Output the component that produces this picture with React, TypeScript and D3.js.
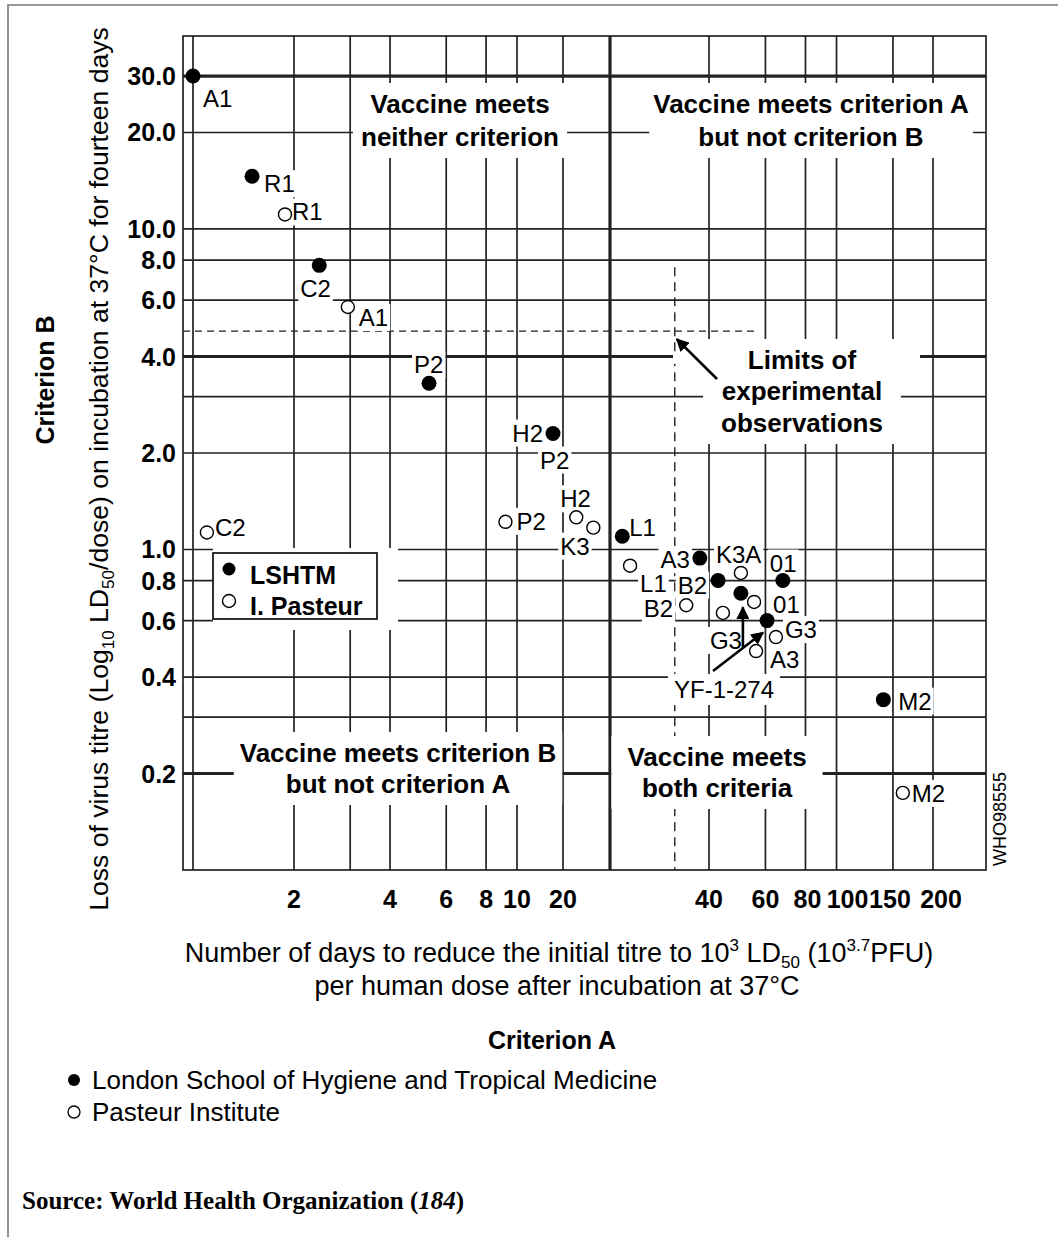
import React, { useEffect, useRef } from "react";
import * as d3 from "d3";

const W = 1058;
const H = 1237;

// x axis: number of days (the original figure uses a piecewise log axis)
const xBreaks = [1, 2, 10, 20, 40, 200];
const xGrid = [1, 2, 3, 4, 6, 8, 10, 20, 40, 60, 80, 100, 150, 200];
const xTicks = [2, 4, 6, 8, 10, 20, 40, 60, 80, 100, 150, 200];
const xCriterion = 25;

// y axis: loss of virus titre
const yGrid = [20, 10, 8, 6, 3, 2, 1, 0.8, 0.6, 0.4, 0.3];
const yThick = [30, 4, 0.2];
const yTicks = [30, 20, 10, 8, 6, 4, 2, 1, 0.8, 0.6, 0.4, 0.2];

// limits of experimental observations
const limitDays = 34;
const limitLoss = 4.8;
const limitDaysEnd = 57;
const limitLossTop = 7.6;

// London School of Hygiene and Tropical Medicine
const lshtmNames = ["A1", "R1", "C2", "P2", "H2", "L1", "A3", "B2", "01", "YF", "G3", "M2"];
const lshtmDays = [1.0, 1.5, 2.4, 5.3, 17.2, 26.5, 38.3, 42.7, 68, 50.3, 60.7, 140];
const lshtmLoss = [30, 14.6, 7.7, 3.3, 2.3, 1.1, 0.94, 0.8, 0.8, 0.73, 0.6, 0.34];

// Pasteur Institute
const pasteurNames = ["R1", "A1", "C2", "P2", "H2", "K3", "L1", "B2", "K3A", "01", "G3", "G3", "A3", "M2"];
const pasteurDays = [1.88, 2.95, 1.1, 9.2, 21.3, 23.1, 27.5, 35.9, 50.3, 55.3, 44.2, 64.7, 56.1, 161];
const pasteurLoss = [11.1, 5.71, 1.13, 1.22, 1.26, 1.17, 0.89, 0.67, 0.845, 0.686, 0.634, 0.533, 0.482, 0.174];

// label placement: series, point index, text override, dx, dy, anchor
const labelLayout: [string, number, string | null, number, number, string][] = [
  ["L", 0, null, 10, 31, "start"],
  ["L", 1, null, 12, 16, "start"],
  ["L", 2, null, -19, 32, "start"],
  ["L", 3, null, -15, -10, "start"],
  ["L", 4, null, -10, 8, "end"],
  ["L", 4, "P2", -13, 35, "start"],
  ["L", 5, null, 7, 0, "start"],
  ["L", 6, null, -10, 10, "end"],
  ["L", 7, null, -11, 13, "end"],
  ["L", 8, null, -13, -9, "start"],
  ["L", 11, null, 15, 10, "start"],
  ["P", 0, null, 7, 6, "start"],
  ["P", 1, null, 11, 19, "start"],
  ["P", 2, null, 8, 4, "start"],
  ["P", 3, null, 11, 8, "start"],
  ["P", 4, null, -16, -10, "start"],
  ["P", 5, null, -33, 27, "start"],
  ["P", 6, null, 10, 26, "start"],
  ["P", 7, null, -13, 12, "end"],
  ["P", 8, null, -25, -10, "start"],
  ["P", 9, null, 19, 11, "start"],
  ["P", 10, null, -13, 36, "start"],
  ["P", 11, null, 9, 1, "start"],
  ["P", 12, null, 14, 17, "start"],
  ["P", 13, null, 9, 9, "start"],
];

// small horizontal nudges of x tick labels, as set in the original
const xTickNudge: Record<number, number> = { 80: 2, 100: 11, 150: -3, 200: 8 };

const SANS = "'Liberation Sans', Arial, Helvetica, sans-serif";
const SERIF = "'Liberation Serif', 'Times New Roman', serif";

export default function App() {
  const ref = useRef<SVGSVGElement>(null);

  useEffect(() => {
    const svg = d3.select(ref.current);
    svg.selectAll("*").remove();

    const x = d3.scaleLog().domain(xBreaks).range([193, 294, 517, 563, 709, 933]);
    const y = d3.scaleLog().domain([0.1, 40]).range([870, 36]);
    const left = 183, right = 986, top = 36, bottom = 870;

    const defs = svg.append("defs");
    defs.append("marker")
      .attr("id", "ah")
      .attr("viewBox", "0 0 10 10")
      .attr("refX", 9).attr("refY", 5)
      .attr("markerWidth", 5).attr("markerHeight", 5)
      .attr("orient", "auto")
      .append("path").attr("d", "M0,0L10,5L0,10z").attr("fill", "#000");

    svg.append("rect").attr("width", W).attr("height", H).attr("fill", "#fff");

    // outer figure border (top + left)
    svg.append("path")
      .attr("d", `M8,${H}V5H${W}`)
      .attr("fill", "none").attr("stroke", "#777").attr("stroke-width", 1.6);

    const gGrid = svg.append("g").attr("stroke", "#222").attr("fill", "none");
    const gDash = svg.append("g");
    const gKnock = svg.append("g").attr("fill", "#fff");
    const gArrow = svg.append("g");
    const gMarks = svg.append("g");
    const gText = svg.append("g").attr("font-family", SANS).attr("fill", "#000");

    // grid
    gGrid.selectAll("line.v").data(xGrid).join("line")
      .attr("x1", d => x(d)).attr("x2", d => x(d))
      .attr("y1", top).attr("y2", bottom).attr("stroke-width", 1.7);
    gGrid.append("line")
      .attr("x1", x(xCriterion)).attr("x2", x(xCriterion))
      .attr("y1", top).attr("y2", bottom).attr("stroke-width", 3.2);
    gGrid.selectAll("line.h").data(yGrid).join("line")
      .attr("x1", left).attr("x2", right)
      .attr("y1", d => y(d)).attr("y2", d => y(d)).attr("stroke-width", 1.7);
    gGrid.selectAll("line.t").data(yThick).join("line")
      .attr("x1", left).attr("x2", right)
      .attr("y1", d => y(d)).attr("y2", d => y(d)).attr("stroke-width", 3.2);
    gGrid.append("rect")
      .attr("x", left).attr("y", top).attr("width", right - left).attr("height", bottom - top)
      .attr("stroke-width", 1.7);

    // dashed limits
    gDash.append("line")
      .attr("x1", left).attr("x2", x(limitDaysEnd))
      .attr("y1", y(limitLoss)).attr("y2", y(limitLoss))
      .attr("stroke", "#222").attr("stroke-width", 1.4).attr("stroke-dasharray", "7,5");
    gDash.append("line")
      .attr("x1", x(limitDays)).attr("x2", x(limitDays))
      .attr("y1", y(limitLossTop)).attr("y2", bottom)
      .attr("stroke", "#222").attr("stroke-width", 1.4).attr("stroke-dasharray", "9,6");

    // text with knock-out box
    const knockText = (lines: string[], cx: number, by: number[], opt: any) => {
      const t = gText.append("text")
        .attr("text-anchor", opt.anchor || "middle")
        .attr("font-size", opt.size)
        .attr("font-weight", opt.bold ? "bold" : "normal");
      lines.forEach((s, i) => t.append("tspan").attr("x", cx).attr("y", by[i]).text(s));
      const b = (t.node() as SVGTextElement).getBBox();
      const px = opt.padX ?? 2, py = opt.padY ?? 1;
      gKnock.append("rect")
        .attr("x", b.x - px).attr("y", b.y - py)
        .attr("width", b.width + 2 * px).attr("height", b.height + 2 * py);
      return t;
    };

    knockText(["Vaccine meets", "neither criterion"], 460, [113, 146], { size: 26, bold: true, padX: 8, padY: 6 });
    knockText(["Vaccine meets criterion A", "but not criterion B"], 811, [113, 146], { size: 26, bold: true, padX: 4, padY: 6 });
    knockText(["Vaccine meets criterion B", "but not criterion A"], 398, [762, 793], { size: 26, bold: true, padX: 6, padY: 6 });
    knockText(["Vaccine meets", "both criteria"], 717, [766, 797], { size: 26, bold: true, padX: 16, padY: 6 });
    knockText(["Limits of", "experimental", "observations"], 802, [369, 400, 432], { size: 26, bold: true, padX: 18, padY: 6 });
    gKnock.append("rect").attr("x", 673).attr("y", 352).attr("width", 247).attr("height", 12);
    knockText(["YF-1-274"], 724, [698], { size: 24, padX: 6, padY: 2 });

    // point labels
    const lx = (s: string, i: number) => s === "L" ? x(lshtmDays[i]) : x(pasteurDays[i]);
    const ly = (s: string, i: number) => s === "L" ? y(lshtmLoss[i]) : y(pasteurLoss[i]);
    labelLayout.forEach(([s, i, txt, dx, dy, anchor]) => {
      const name = txt ?? (s === "L" ? lshtmNames[i] : pasteurNames[i]);
      knockText([name], lx(s, i) + dx, [ly(s, i) + dy], { size: 24, anchor, padX: 2, padY: 0 });
    });

    // in-plot legend
    gKnock.append("rect").attr("x", 213).attr("y", 548).attr("width", 185).attr("height", 82);
    gKnock.append("rect").attr("x", 213).attr("y", 553).attr("width", 164).attr("height", 66)
      .attr("stroke", "#000").attr("stroke-width", 1.6);
    gMarks.append("circle").attr("cx", 229).attr("cy", 569).attr("r", 6.5).attr("fill", "#000");
    gMarks.append("circle").attr("cx", 229).attr("cy", 601).attr("r", 6.5)
      .attr("fill", "#fff").attr("stroke", "#000").attr("stroke-width", 1.4);
    gText.append("text").attr("x", 250).attr("y", 584).attr("font-size", 25).attr("font-weight", "bold").text("LSHTM");
    gText.append("text").attr("x", 250).attr("y", 615).attr("font-size", 25).attr("font-weight", "bold").text("I. Pasteur");

    // arrows
    const arrow = (x1: number, y1: number, x2: number, y2: number) =>
      gArrow.append("line")
        .attr("x1", x1).attr("y1", y1).attr("x2", x2).attr("y2", y2)
        .attr("stroke", "#000").attr("stroke-width", 2.6).attr("marker-end", "url(#ah)");
    arrow(717, 379, x(limitDays) + 2, y(limitLoss) + 8);
    arrow(x(lshtmDays[9]) + 2, 647, x(lshtmDays[9]) + 2, y(lshtmLoss[9]) + 14);
    arrow(713, 671, x(lshtmDays[10]) - 4, y(lshtmLoss[10]) + 12);

    // markers
    gMarks.selectAll("circle.l").data(lshtmDays).join("circle")
      .attr("cx", d => x(d)).attr("cy", (_, i) => y(lshtmLoss[i]))
      .attr("r", 7.5).attr("fill", "#000");
    gMarks.selectAll("circle.p").data(pasteurDays).join("circle")
      .attr("cx", d => x(d)).attr("cy", (_, i) => y(pasteurLoss[i]))
      .attr("r", 6.5).attr("fill", "#fff").attr("stroke", "#000").attr("stroke-width", 1.4);

    // tick labels
    gText.selectAll("text.yt").data(yTicks).join("text")
      .attr("x", 176).attr("y", d => y(d)).attr("dy", "0.36em")
      .attr("text-anchor", "end").attr("font-size", 25).attr("font-weight", "bold")
      .text(d => d.toFixed(1));
    gText.selectAll("text.xt").data(xTicks).join("text")
      .attr("x", d => x(d) + (xTickNudge[d] || 0)).attr("y", 908)
      .attr("text-anchor", "middle").attr("font-size", 25).attr("font-weight", "bold")
      .text(d => String(d));

    // axis titles
    const yt = gText.append("text")
      .attr("transform", "translate(108,469) rotate(-90)")
      .attr("text-anchor", "middle").attr("font-size", 26.6);
    yt.append("tspan").text("Loss of virus titre (Log");
    yt.append("tspan").attr("font-size", 17).attr("dy", 6).text("10");
    yt.append("tspan").attr("dy", -6).text(" LD");
    yt.append("tspan").attr("font-size", 17).attr("dy", 6).text("50");
    yt.append("tspan").attr("dy", -6).text("/dose) on incubation at 37°C for fourteen days");

    gText.append("text")
      .attr("transform", "translate(54,380) rotate(-90)")
      .attr("text-anchor", "middle").attr("font-size", 25).attr("font-weight", "bold")
      .text("Criterion B");

    const xt = gText.append("text").attr("x", 559).attr("y", 962)
      .attr("text-anchor", "middle").attr("font-size", 27);
    xt.append("tspan").text("Number of days to reduce the initial titre to 10");
    xt.append("tspan").attr("font-size", 17).attr("dy", -11).text("3");
    xt.append("tspan").attr("dy", 11).text(" LD");
    xt.append("tspan").attr("font-size", 17).attr("dy", 6).text("50");
    xt.append("tspan").attr("dy", -6).text(" (10");
    xt.append("tspan").attr("font-size", 17).attr("dy", -11).text("3.7");
    xt.append("tspan").attr("dy", 11).text("PFU)");
    gText.append("text").attr("x", 557).attr("y", 995)
      .attr("text-anchor", "middle").attr("font-size", 27)
      .text("per human dose after incubation at 37°C");

    gText.append("text").attr("x", 552).attr("y", 1049)
      .attr("text-anchor", "middle").attr("font-size", 25).attr("font-weight", "bold")
      .text("Criterion A");

    gText.append("text")
      .attr("transform", "translate(1006,819) rotate(-90)")
      .attr("text-anchor", "middle").attr("font-size", 18)
      .text("WHO98555");

    // bottom legend
    gMarks.append("circle").attr("cx", 74).attr("cy", 1080).attr("r", 6).attr("fill", "#000");
    gMarks.append("circle").attr("cx", 74).attr("cy", 1112).attr("r", 6)
      .attr("fill", "#fff").attr("stroke", "#000").attr("stroke-width", 1.3);
    gText.append("text").attr("x", 92).attr("y", 1089).attr("font-size", 26)
      .text("London School of Hygiene and Tropical Medicine");
    gText.append("text").attr("x", 92).attr("y", 1121).attr("font-size", 26)
      .text("Pasteur Institute");

    const src = gText.append("text").attr("x", 22).attr("y", 1209)
      .attr("font-family", SERIF).attr("font-size", 25).attr("font-weight", "bold");
    src.append("tspan").text("Source: World Health Organization (");
    src.append("tspan").attr("font-style", "italic").text("184");
    src.append("tspan").text(")");
  }, []);

  return (
    <svg
      ref={ref}
      width={W}
      height={H}
      style={{ position: "absolute", left: 0, top: 0, background: "#fff" }}
    />
  );
}
